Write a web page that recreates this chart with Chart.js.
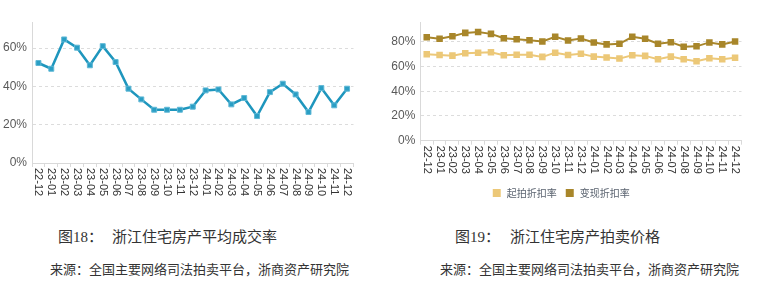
<!DOCTYPE html>
<html>
<head>
<meta charset="utf-8">
<script src="https://cdn.jsdelivr.net/npm/chart.js@4.4.1/dist/chart.umd.min.js"></script>
<style>
  body { margin:0; background:#fff; width:763px; height:295px; position:relative; overflow:hidden; font-family:"Noto Sans CJK SC", sans-serif; }
  #leftBox { position:absolute; left:0; top:0; width:380px; height:208px; }
  #rightBox { position:absolute; left:380px; top:0; width:383px; height:208px; }
  .cap { position:absolute; font-size:15px; line-height:18px; color:#333; white-space:nowrap; font-family:"Liberation Serif", "Noto Sans CJK SC", serif; }
  .src { position:absolute; font-size:13px; line-height:16px; color:#333; white-space:nowrap; }
</style>
</head>
<body>
<div id="leftBox"><canvas id="dealChart" width="380" height="208"></canvas></div>
<div id="rightBox"><canvas id="priceChart" width="383" height="208"></canvas></div>

<div class="cap" style="left:58px;top:228px;">图18：</div>
<div class="cap" style="left:112px;top:228px;">浙江住宅房产平均成交率</div>
<div class="src" style="left:50px;top:261px;">来源：全国主要网络司法拍卖平台，浙商资产研究院</div>

<div class="cap" style="left:455px;top:228px;">图19：</div>
<div class="cap" style="left:510px;top:228px;">浙江住宅房产拍卖价格</div>
<div class="src" style="left:440px;top:261px;">来源：全国主要网络司法拍卖平台，浙商资产研究院</div>

<script>
// months shared by both charts
const months = ['22-12','23-01','23-02','23-03','23-04','23-05','23-06','23-07','23-08','23-09','23-10','23-11','23-12',
  '24-01','24-02','24-03','24-04','24-05','24-06','24-07','24-08','24-09','24-10','24-11','24-12'];

// 平均成交率 (%)
const dealRate = [52.2, 49.2, 64.5, 60.2, 51.0, 61.0, 52.7, 38.8, 33.2, 27.8, 27.8, 27.8, 29.4,
  37.9, 38.4, 30.6, 33.9, 24.5, 37.0, 41.4, 35.8, 26.6, 39.1, 30.1, 38.8];

// 起拍折扣率 / 变现折扣率 (%)
const startDiscount = [69.9, 69.4, 68.8, 70.7, 71.2, 71.5, 69.1, 69.6, 69.6, 67.8, 71.2, 69.4, 70.4,
  68.0, 67.2, 66.4, 69.1, 68.6, 65.9, 68.0, 65.9, 64.3, 66.7, 65.9, 67.0];
const realizeDiscount = [83.7, 82.4, 84.5, 87.2, 88.0, 86.4, 82.9, 82.1, 81.3, 80.3, 84.0, 81.0, 82.7,
  79.5, 77.9, 78.4, 84.0, 82.4, 78.4, 79.7, 76.0, 76.3, 79.5, 77.9, 80.3];

const seriesNames = ['起拍折扣率', '变现折扣率'];

// x labels read top-to-bottom, so draw them ourselves at the scale's tick positions
const verticalLabels = {
  id: 'verticalLabels',
  afterDraw(chart) {
    const sc = chart.scales.x;
    const ctx = chart.ctx;
    ctx.save();
    ctx.font = '11px "Liberation Sans"';
    ctx.fillStyle = '#333';
    ctx.textAlign = 'left';
    ctx.textBaseline = 'middle';
    chart.data.labels.forEach((lab, i) => {
      ctx.save();
      ctx.translate(sc.getPixelForTick(i), sc.top + 5);
      ctx.rotate(Math.PI / 2);
      ctx.fillText(lab, 0, 0);
      ctx.restore();
    });
    ctx.restore();
  }
};

const makeScales = (yMax, yWidth, xHeight) => ({
  x: {
    offset: true,
    grid: { display: true, offset: true, drawOnChartArea: false, drawTicks: true, tickLength: 4, color: '#d9d9d9' },
    border: { display: true, color: '#d9d9d9' },
    ticks: { display: false },
    afterFit: s => { s.height = xHeight; }
  },
  y: {
    min: 0, max: yMax,
    grid: { drawTicks: false, color: c => c.tick && c.tick.value === 0 ? 'rgba(0,0,0,0)' : '#dcdcdc' },
    border: { display: true, color: '#d9d9d9', dash: [3, 3] },
    ticks: { stepSize: 20, includeBounds: false, padding: 5, color: '#595959',
      font: { family: 'Liberation Sans', size: 12 }, callback: v => v + '%' },
    afterFit: s => { s.width = yWidth; }
  }
});

new Chart(document.getElementById('dealChart'), {
  type: 'line',
  data: {
    labels: months,
    datasets: [{ label: '平均成交率', data: dealRate, borderColor: '#1e96bd', backgroundColor: '#1e96bd',
      borderWidth: 2.5, pointStyle: 'rect', pointRadius: 3.5, pointBackgroundColor: '#2a9ec4', pointBorderColor: '#5fb8d6', pointBorderWidth: 1, tension: 0 }]
  },
  options: {
    responsive: false, animation: false, devicePixelRatio: 1,
    layout: { padding: { top: 22, right: 26.5, left: 0, bottom: 0 } },
    plugins: { legend: { display: false }, tooltip: { enabled: false } },
    scales: makeScales(73.6, 32, 45)
  },
  plugins: [verticalLabels]
});

new Chart(document.getElementById('priceChart'), {
  type: 'line',
  data: {
    labels: months,
    datasets: [
      { label: seriesNames[0], data: startDiscount, borderColor: '#ecc878', backgroundColor: '#ecc878',
        borderWidth: 2, pointStyle: 'rect', pointRadius: 3.2, tension: 0 },
      { label: seriesNames[1], data: realizeDiscount, borderColor: '#a8862a', backgroundColor: '#a8862a',
        borderWidth: 2, pointStyle: 'rect', pointRadius: 3.2, tension: 0 }
    ]
  },
  options: {
    responsive: false, animation: false, devicePixelRatio: 1,
    layout: { padding: { top: 22, right: 21.5, left: 0, bottom: 0 } },
    plugins: {
      legend: { position: 'bottom', labels: { usePointStyle: true, boxHeight: 6, boxWidth: 10, padding: 8,
        color: '#5b6470', font: { family: 'Noto Sans CJK SC', size: 10 } } },
      tooltip: { enabled: false }
    },
    scales: makeScales(96, 40.3, 39.3)
  },
  plugins: [verticalLabels]
});
</script>
</body>
</html>
